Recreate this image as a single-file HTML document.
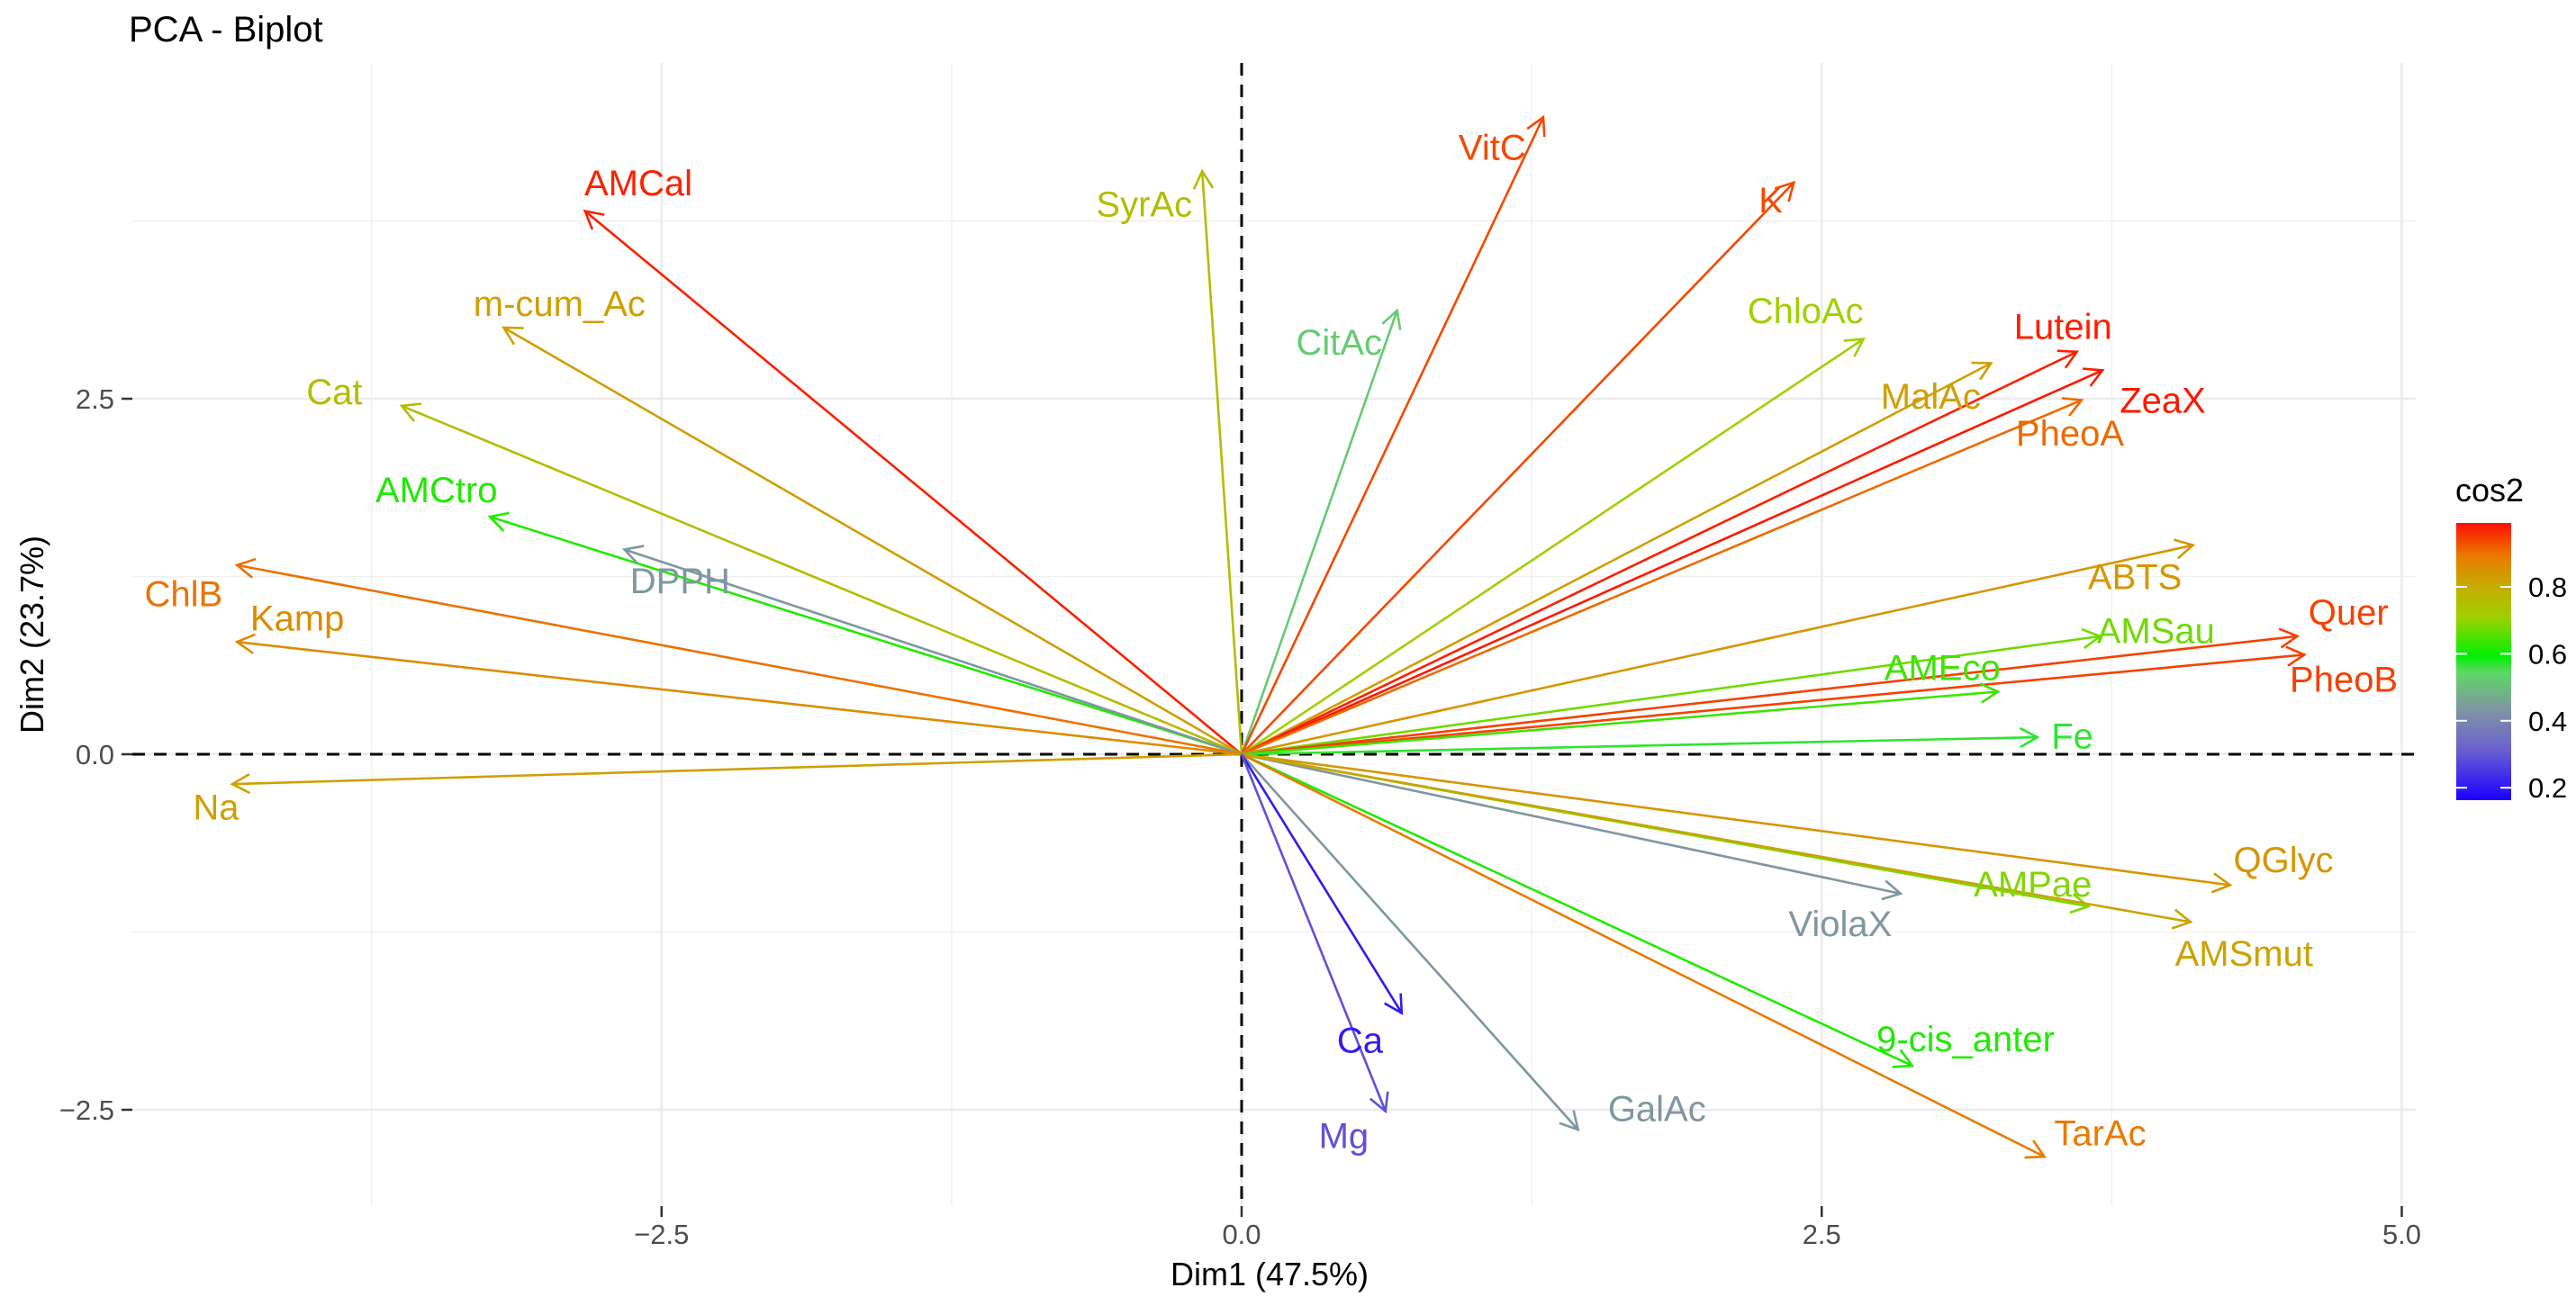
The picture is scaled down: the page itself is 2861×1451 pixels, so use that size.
<!DOCTYPE html>
<html><head><meta charset="utf-8"><style>
html,body{margin:0;padding:0;background:#fff;}
svg{display:block;font-family:"Liberation Sans",sans-serif;}
</style></head><body>
<svg id="chart" width="2861" height="1451" viewBox="0 0 2861 1451" xmlns="http://www.w3.org/2000/svg">
<defs>
<linearGradient id="cg" x1="0" y1="1" x2="0" y2="0">
<stop offset="0" stop-color="#1a00ff"/>
<stop offset="0.18" stop-color="#6a5fd0"/>
<stop offset="0.33" stop-color="#7f97a0"/>
<stop offset="0.46" stop-color="#5ed866"/>
<stop offset="0.52" stop-color="#00f000"/>
<stop offset="0.66" stop-color="#a0d000"/>
<stop offset="0.78" stop-color="#c8a800"/>
<stop offset="0.88" stop-color="#ea7a00"/>
<stop offset="1" stop-color="#ff1000"/>
</linearGradient>
</defs>
<text x="143" y="46" font-size="40" fill="#000">PCA - Biplot</text>
<g id="grid"></g>
<g id="axes"></g>
<g id="arrows"></g>
<g id="labels"></g>
<text x="1410" y="1428" font-size="36" text-anchor="middle" fill="#000">Dim1 (47.5%)</text>
<text transform="translate(48,705) rotate(-90)" font-size="36" text-anchor="middle" fill="#000">Dim2 (23.7%)</text>
<g>
<text x="2727" y="557" font-size="36" fill="#000">cos2</text>
<rect x="2728" y="581" width="61" height="308" fill="url(#cg)"/>
<g id="legticks"></g>
</g>
</svg>
<script>
const varNames=["AMCal","m-cum_Ac","Cat","AMCtro","DPPH","ChlB","Kamp","Na","SyrAc","CitAc","VitC","K","ChloAc","MalAc","Lutein","ZeaX","PheoA","ABTS","AMSau","Quer","PheoB","AMEco","Fe","QGlyc","ViolaX","AMPae","AMSmut","9-cis_anter","TarAc","GalAc","Ca","Mg"];
const dim1=[-2.83,-3.18,-3.62,-3.24,-2.66,-4.33,-4.33,-4.35,-0.17,0.67,1.30,2.38,2.68,3.23,3.60,3.71,3.62,4.10,3.70,4.55,4.58,3.26,3.43,4.26,2.84,3.65,4.09,2.89,3.46,1.45,0.69,0.62];
const dim2=[3.82,3.00,2.45,1.67,1.44,1.33,0.79,-0.21,4.10,3.12,4.48,4.02,2.92,2.75,2.83,2.70,2.49,1.47,0.83,0.83,0.70,0.44,0.12,-0.92,-0.98,-1.07,-1.18,-2.19,-2.83,-2.64,-1.82,-2.51];
const cos2=[0.97,0.78,0.72,0.60,0.42,0.87,0.82,0.78,0.72,0.50,0.92,0.92,0.68,0.78,0.97,0.98,0.88,0.80,0.65,0.93,0.93,0.62,0.55,0.80,0.42,0.66,0.77,0.60,0.86,0.42,0.20,0.28];
const labelX=[-2.6,-2.94,-3.91,-3.47,-2.42,-4.56,-4.07,-4.42,-0.42,0.42,1.08,2.28,2.43,2.97,3.54,3.97,3.57,3.85,3.94,4.77,4.75,3.02,3.58,4.49,2.58,3.41,4.32,3.12,3.70,1.79,0.51,0.44];
const labelY=[4.02,3.17,2.55,1.86,1.22,1.13,0.96,-0.37,3.87,2.90,4.27,3.90,3.12,2.52,3.01,2.49,2.26,1.25,0.87,1.00,0.53,0.61,0.13,-0.74,-1.19,-0.91,-1.40,-2.00,-2.66,-2.49,-2.01,-2.68];
const xTicks=[-2.5,0,2.5,5];
const xTickLabels=["\u22122.5","0.0","2.5","5.0"];
const yTicks=[-2.5,0,2.5];
const yTickLabels=["\u22122.5","0.0","2.5"];
const xMinor=[-3.75,-1.25,1.25,3.75];
const yMinor=[-1.25,1.25,3.75];
const legTicks=[0.2,0.4,0.6,0.8];

const L=147,R=2683,T=70,B=1340;
const X0=1379,Y0=838,SX=257.7,SY=158;
const sx=v=>X0+v*SX, sy=v=>Y0-v*SY;
const NS="http://www.w3.org/2000/svg";
function mk(tag,attrs,parent){const e=document.createElementNS(NS,tag);for(const k in attrs)e.setAttribute(k,attrs[k]);parent.appendChild(e);return e;}
const stops=[[0.16,[26,0,255]],[0.3,[106,95,208]],[0.42,[127,151,160]],[0.52,[94,216,102]],[0.58,[0,240,0]],[0.68,[160,208,0]],[0.76,[200,168,0]],[0.86,[234,122,0]],[0.99,[255,16,0]]];
function col(v){if(v<=stops[0][0])return 'rgb('+stops[0][1]+')';for(let i=1;i<stops.length;i++){if(v<=stops[i][0]){const a=stops[i-1],b=stops[i],t=(v-a[0])/(b[0]-a[0]);return 'rgb('+a[1].map((c,j)=>Math.round(c+(b[1][j]-c)*t)).join(',')+')';}}return 'rgb('+stops[stops.length-1][1]+')';}

const grid=document.getElementById('grid');
xMinor.forEach(v=>{const l=mk('line',{x1:sx(v),x2:sx(v),y1:T,y2:B,stroke:'#f0f0f0','stroke-width':1.5},grid);});
yMinor.forEach(v=>{const l=mk('line',{x1:L,x2:R,y1:sy(v),y2:sy(v),stroke:'#f0f0f0','stroke-width':1.5},grid);});
xTicks.forEach(v=>{const l=mk('line',{x1:sx(v),x2:sx(v),y1:T,y2:B,stroke:'#ebebeb','stroke-width':2.5},grid);});
yTicks.forEach(v=>{const l=mk('line',{x1:L,x2:R,y1:sy(v),y2:sy(v),stroke:'#ebebeb','stroke-width':2.5},grid);});

const axes=document.getElementById('axes');
xTicks.forEach((v,i)=>{
 const t=mk('line',{x1:sx(v),x2:sx(v),y1:B,y2:B+12,stroke:'#333','stroke-width':2.5},axes);
 
 const tx=mk('text',{x:sx(v),y:B+42,'font-size':31,'text-anchor':'middle',fill:'#4d4d4d'},axes);tx.textContent=xTickLabels[i];
 
});
yTicks.forEach((v,i)=>{
 const t=mk('line',{x1:L-12,x2:L,y1:sy(v),y2:sy(v),stroke:'#333','stroke-width':2.5},axes);
 
 const tx=mk('text',{x:L-20,y:sy(v)+11,'font-size':31,'text-anchor':'end',fill:'#4d4d4d'},axes);tx.textContent=yTickLabels[i];
 
});
const hz=mk('line',{x1:L,x2:R,y1:sy(0),y2:sy(0),stroke:'#000','stroke-width':3,'stroke-dasharray':'14 10'},axes);

const vt=mk('line',{x1:sx(0),x2:sx(0),y1:T,y2:B,stroke:'#000','stroke-width':3,'stroke-dasharray':'14 10'},axes);


const ag=document.getElementById('arrows'),lg=document.getElementById('labels');
varNames.forEach((n,i)=>{
 const c=col(cos2[i]);const x1=sx(0),y1=sy(0),x2=sx(dim1[i]),y2=sy(dim2[i]);
 const ang=Math.atan2(y2-y1,x2-x1),h=22,a=0.5;
 const g=mk('g',{},ag);
 
 
 mk('line',{x1:x1,y1:y1,x2:x2,y2:y2,stroke:c,'stroke-width':2.6},g);
 const p=`M${x2-h*Math.cos(ang-a)},${y2-h*Math.sin(ang-a)} L${x2},${y2} L${x2-h*Math.cos(ang+a)},${y2-h*Math.sin(ang+a)}`;
 mk('path',{d:p,fill:'none',stroke:c,'stroke-width':2.6},g);
 const t=mk('text',{x:sx(labelX[i]),y:sy(labelY[i])+14,'font-size':40,'text-anchor':'middle',fill:c},lg);
 t.textContent=n;
 
 
});

const lt=document.getElementById('legticks');
const ly=v=>652+(0.8-v)*372;
legTicks.forEach(v=>{
 mk('line',{x1:2728,x2:2740,y1:ly(v),y2:ly(v),stroke:'#fff','stroke-width':2},lt);
 mk('line',{x1:2777,x2:2789,y1:ly(v),y2:ly(v),stroke:'#fff','stroke-width':2},lt);
 const t=mk('text',{x:2808,y:ly(v)+11,'font-size':31,fill:'#000'},lt);t.textContent=v.toFixed(1);
 
 
});
</script>
</body></html>
